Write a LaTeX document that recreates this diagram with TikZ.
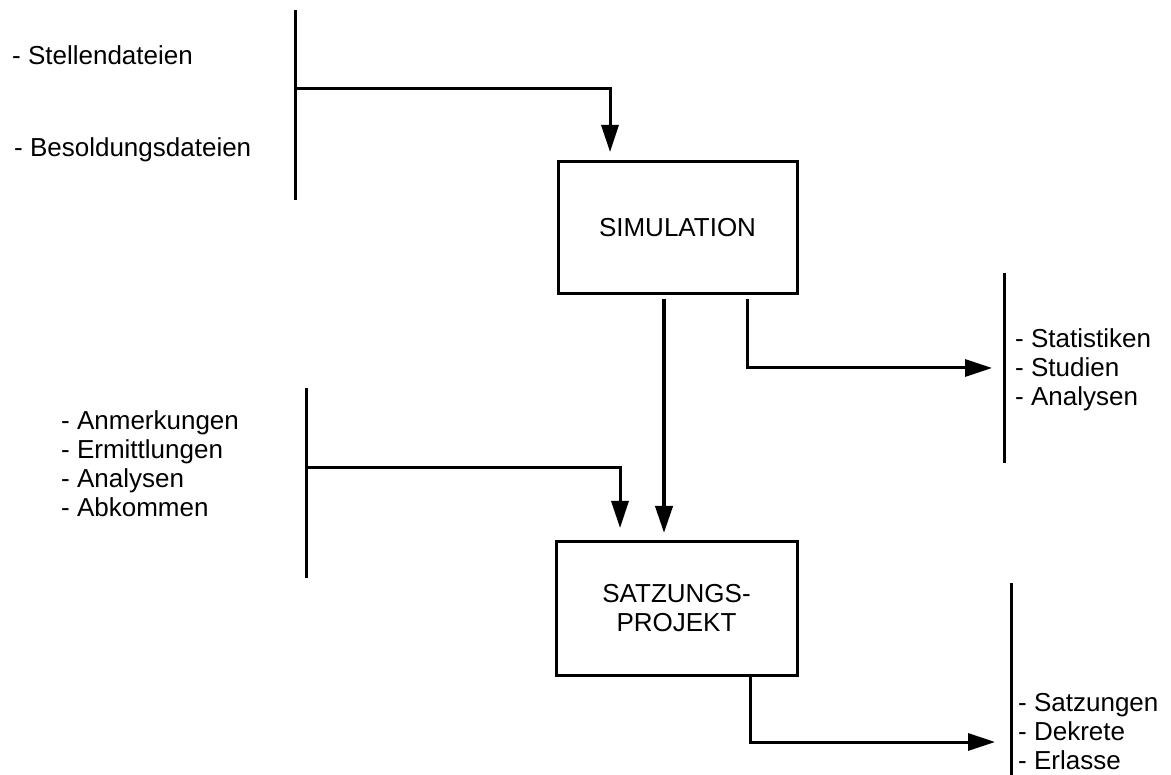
\documentclass[tikz,border=0pt]{standalone}
\usepackage{fontspec}
\setmainfont{Liberation Sans}
\usetikzlibrary{arrows.meta}
\begin{document}
\begin{tikzpicture}[x=1pt,y=-1pt,
  lbl/.style={font=\fontsize{26}{29}\selectfont, inner sep=0pt, anchor=west, align=left},
  procbox/.style={draw, line width=3pt, outer sep=0pt, inner sep=0pt, minimum width=239pt, minimum height=132pt, font=\fontsize{26}{29}\selectfont, align=center},
  bar/.style={line width=3pt},
  conn/.style={line width=3pt, -{Triangle[length=27pt,width=17pt]}},
  ]
\useasboundingbox (0,0) rectangle (1171,775);
% process boxes
\node[procbox] (sim) at (677.5,228) {SIMULATION};
\node[procbox, minimum width=241pt, minimum height=133pt] (satz) at (676.5,608.5) {SATZUNGS-\\PROJEKT};
% bracket lines
\coordinate (b1t) at (295,10);  \coordinate (b1b) at (295,200);  \coordinate (b1m) at (295,89);
\coordinate (b2t) at (306,388); \coordinate (b2b) at (306,578);  \coordinate (b2m) at (306,468);
\coordinate (r1t) at (1004,273); \coordinate (r1b) at (1004,463); \coordinate (r1m) at (1004,368);
\coordinate (r2t) at (1011,583); \coordinate (r2b) at (1011,775); \coordinate (r2m) at (1011,742);
\draw[bar] (b1t) -- (b1b);
\draw[bar] (b2t) -- (b2b);
\draw[bar] (r1t) -- (r1b);
\draw[bar] (r2t) -- (r2b);
% texts
\node[lbl] (t1) at (12,55) {- Stellendateien};
\node[lbl] (t2) at (14,150) {- Besoldungsdateien};
\node[lbl] (t3) at (61,464) {- Anmerkungen\\- Ermittlungen\\- Analysen\\- Abkommen};
\node[lbl] (t4) at (1015,370) {- Statistiken\\- Studien\\- Analysen};
\node[lbl] (t5) at (1018,732) {- Satzungen\\- Dekrete\\- Erlasse};
% connectors
\draw[conn, shorten >=10pt] (b1m) -| ([xshift=52pt]sim.north west);
\draw[conn, line width=4pt, shorten <=5pt, shorten >=9pt] ([xshift=106pt]sim.south west) -- ([xshift=108pt]satz.north west);
\draw[conn, shorten <=5pt, shorten >=12pt] ([xshift=189pt]sim.south west) |- (r1m);
\draw[conn, shorten >=14pt] (b2m) -| ([xshift=64pt]satz.north west);
\draw[conn, shorten >=16pt] ([xshift=194pt]satz.south west) |- (r2m);
\end{tikzpicture}
\end{document}
